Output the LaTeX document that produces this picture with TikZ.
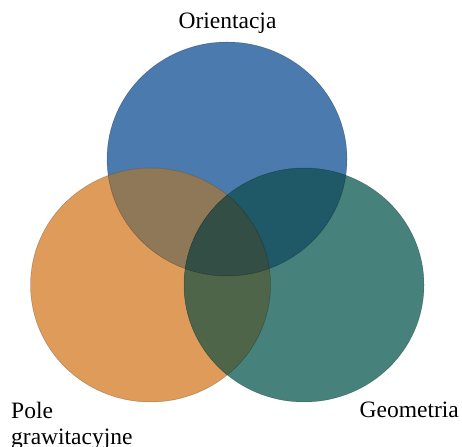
\documentclass[tikz,border=0pt]{standalone}
\usepackage{fontspec}
\setmainfont{Liberation Serif}
\usepackage{tikz}
\definecolor{orientblue}{HTML}{4A7AAE}
\definecolor{gravorange}{HTML}{DF9B5A}
\definecolor{geoteal}{HTML}{46817B}
\definecolor{blueorange}{HTML}{8E7858}
\definecolor{blueteal}{HTML}{1F5867}
\definecolor{orangeteal}{HTML}{4E6549}
\definecolor{allthree}{HTML}{334E45}

\begin{document}
\begin{tikzpicture}[
    x=1pt, y=1pt,
    vennedge/.style={draw=black, draw opacity=0.25, line width=0.5pt},
    vennlabel/.style={font=\fontsize{23.5}{26}\selectfont, inner sep=0pt}
]
\useasboundingbox (0,0) rectangle (462,446);
\def\orientset{(227,287) ellipse [x radius=120, y radius=117]}
\def\gravset{(150.5,161) ellipse [x radius=120, y radius=117]}
\def\geoset{(304,161) ellipse [x radius=120, y radius=117]}
% the three sets
\fill[orientblue] \orientset;
\fill[gravorange] \gravset;
\fill[geoteal] \geoset;
% pairwise overlaps
\begin{scope}
    \clip \orientset;
    \fill[blueorange] \gravset;
    \fill[blueteal] \geoset;
\end{scope}
\begin{scope}
    \clip \gravset;
    \fill[orangeteal] \geoset;
    \clip \geoset;
    \fill[allthree] \orientset;
\end{scope}
\path[vennedge] \orientset \gravset \geoset;
% labels
\node[vennlabel, anchor=base] (orient) at (227.5,417) {Orientacja};
\node[vennlabel, anchor=base east] (geo) at (459,28) {Geometria};
\node[vennlabel, anchor=north west, align=left] (grav) at (11,44) {Pole\\grawitacyjne};
\end{tikzpicture}
\end{document}
